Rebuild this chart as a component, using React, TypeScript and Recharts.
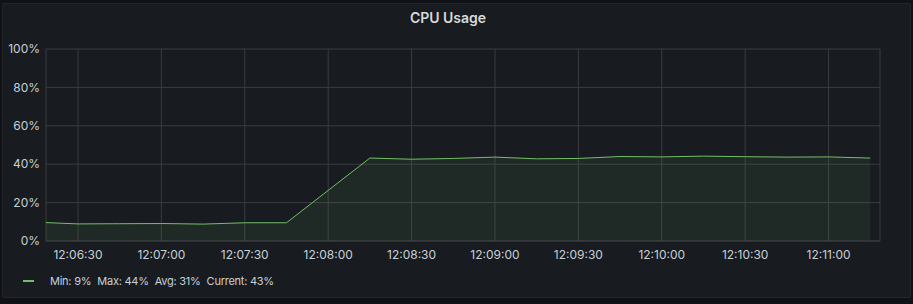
import React from 'react';
import { AreaChart, Area, XAxis, YAxis, CartesianGrid } from 'recharts';

// seconds after 12:06:00, one sample every 15s (no sample at 12:08:00)
const times = [15, 30, 45, 60, 75, 90, 105, 135, 150, 165, 180, 195, 210, 225, 240, 255, 270, 285, 300, 315];
const cpu = [9.8, 8.9, 9.0, 9.1, 8.8, 9.5, 9.5, 43.2, 42.6, 43.0, 43.7, 42.8, 43.0, 44.0, 43.8, 44.2, 43.9, 43.7, 43.8, 43.2];

const xTicks = [30, 60, 90, 120, 150, 180, 210, 240, 270, 300];
const yTicks = [0, 20, 40, 60, 80, 100];

const data = times.map((t, i) => ({ t, cpu: cpu[i] }));

const fmtTime = (s: number) => {
  const total = 12 * 3600 + 6 * 60 + s;
  const h = Math.floor(total / 3600);
  const m = Math.floor((total % 3600) / 60);
  const sec = Math.round(total % 60);
  const p = (n: number) => String(n).padStart(2, '0');
  return `${p(h)}:${p(m)}:${p(sec)}`;
};

const minV = Math.min(...cpu);
const maxV = Math.max(...cpu);
const avgV = cpu.reduce((a, b) => a + b, 0) / cpu.length;
const curV = cpu[cpu.length - 1];

const GREEN = '#73bf69';
const GRID = '#3a3c40';
const TEXT = '#c7d0d9';
const FONT = 'Inter, Roboto, sans-serif';

export default function App() {
  return (
    <div style={{ position: 'absolute', left: 0, top: 0, width: 913, height: 304, background: '#111217', fontFamily: FONT }}>
      <div
        style={{
          position: 'absolute',
          left: 2,
          top: 3,
          width: 907,
          height: 293,
          background: '#181b1f',
          border: '1px solid #232529',
          borderRadius: 2,
        }}
      />
      <div
        style={{
          position: 'absolute',
          left: 0,
          top: 10,
          width: 896,
          textAlign: 'center',
          color: '#d8d9da',
          fontSize: 14,
          fontWeight: 600,
          lineHeight: '16px',
        }}
      >
        CPU Usage
      </div>
      <div style={{ position: 'absolute', left: 0, top: 0 }}>
        <AreaChart width={913} height={304} data={data} margin={{ top: 49, right: 33, bottom: 33, left: 0 }}>
          <CartesianGrid stroke={GRID} />
          <XAxis
            dataKey="t"
            type="number"
            domain={[18.5, 318.5]}
            allowDataOverflow
            ticks={xTicks}
            tickFormatter={fmtTime}
            height={30}
            tickSize={0}
            tickMargin={9}
            axisLine={{ stroke: GRID }}
            tick={{ fill: TEXT, fontSize: 12, fontFamily: FONT }}
          />
          <YAxis
            type="number"
            domain={[0, 100]}
            ticks={yTicks}
            tickFormatter={(v) => `${v}%`}
            width={46}
            tickSize={0}
            tickMargin={6}
            axisLine={false}
            tick={{ fill: TEXT, fontSize: 12, fontFamily: FONT }}
          />
          <Area
            type="linear"
            dataKey="cpu"
            stroke={GREEN}
            strokeWidth={1}
            fill={GREEN}
            fillOpacity={0.09}
            dot={false}
            activeDot={false}
            isAnimationActive={false}
          />
        </AreaChart>
      </div>
      <div
        style={{
          position: 'absolute',
          left: 23,
          top: 273,
          display: 'flex',
          alignItems: 'center',
          color: TEXT,
          fontSize: 11,
          letterSpacing: -0.25,
          lineHeight: '16px',
        }}
      >
        <span style={{ display: 'inline-block', width: 11, height: 2, background: GREEN, marginRight: 16 }} />
        <span style={{ marginRight: 6 }}>Min: {Math.round(minV)}%</span>
        <span style={{ marginRight: 6 }}>Max: {Math.round(maxV)}%</span>
        <span style={{ marginRight: 6 }}>Avg: {Math.round(avgV)}%</span>
        <span>Current: {Math.round(curV)}%</span>
      </div>
    </div>
  );
}
